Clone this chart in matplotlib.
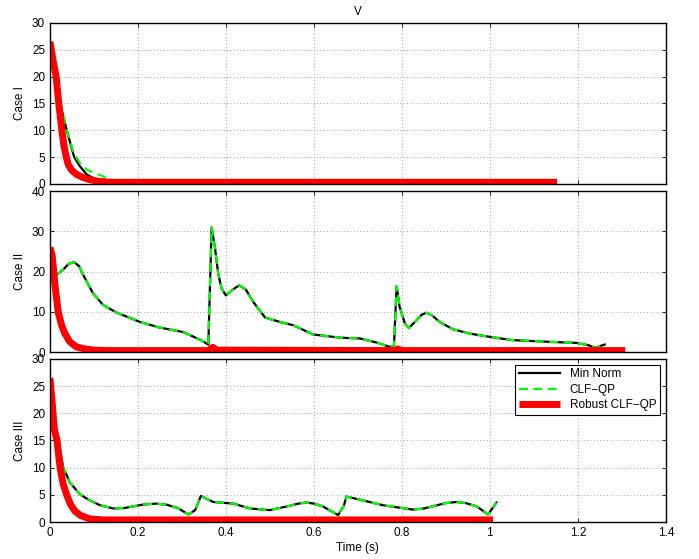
import matplotlib
matplotlib.use("Agg")
import matplotlib.pyplot as plt

plt.rcParams['font.family'] = ['Liberation Sans', 'DejaVu Sans']
plt.rcParams['font.size'] = 8.5

# ---- Case I ----
t1_norm = [0, 0.01, 0.023, 0.038, 0.055, 0.068, 0.083, 0.1, 0.12, 0.14, 0.2, 0.5, 0.8, 1.15]
v1_norm = [26, 20, 15, 10, 5, 3.3, 1.8, 1.0, 0.5, 0.3, 0.2, 0.2, 0.2, 0.2]
t1_clf = [0, 0.01, 0.023, 0.038, 0.053, 0.068, 0.085, 0.102, 0.118, 0.136, 0.16, 0.2, 0.5, 1.15]
v1_clf = [26, 20, 15.2, 10.2, 5.9, 3.9, 2.6, 2.0, 1.5, 0.8, 0.35, 0.2, 0.2, 0.2]
t1_rob = [0, 0.007, 0.014, 0.02, 0.027, 0.032, 0.037, 0.042, 0.05, 0.06, 0.075, 0.09, 0.11, 0.14, 1.153]
v1_rob = [26.5, 23, 20, 15, 10, 7, 5, 3.5, 2.5, 1.8, 1.2, 0.8, 0.5, 0.3, 0.3]

# ---- Case II ----
t2_norm = [0, 0.0136, 0.03, 0.042, 0.055, 0.066, 0.076, 0.098, 0.121, 0.152, 0.205,
           0.25, 0.303, 0.341, 0.36, 0.3675, 0.375, 0.3825, 0.39, 0.40, 0.415, 0.43,
           0.445, 0.462, 0.489, 0.523, 0.553, 0.598, 0.66, 0.705, 0.742, 0.773, 0.782,
           0.788, 0.795, 0.807, 0.816, 0.833, 0.845, 0.856, 0.868, 0.886, 0.916, 0.955,
           1.0, 1.05, 1.129, 1.197, 1.225, 1.239, 1.261]
v2_norm = [22, 19.1, 20.5, 21.9, 22.4, 21.4, 19.1, 14.6, 11.7, 9.8, 7.5,
           6.1, 5.0, 3.1, 1.9, 31, 26, 19.5, 15.8, 14.1, 15.5, 16.6,
           15.6, 12.5, 8.6, 7.5, 6.7, 4.4, 3.6, 3.4, 2.4, 1.3, 1.5,
           16.4, 11.2, 7.1, 6.0, 7.9, 9.3, 9.8, 9.2, 7.5, 5.7, 4.6,
           3.8, 3.0, 2.6, 2.3, 1.7, 1.1, 1.9]
t2_clf = t2_norm
v2_clf = v2_norm
t2_rob = [0, 0.005, 0.012, 0.019, 0.027, 0.034, 0.045, 0.06, 0.08, 0.1, 0.13,
          0.36, 0.37, 0.38, 0.785, 0.79, 0.80, 1.308]
v2_rob = [26, 24, 16, 9.8, 6.5, 4.6, 2.6, 1.3, 0.8, 0.5, 0.4,
          0.4, 1.2, 0.5, 0.4, 0.8, 0.4, 0.4]

# ---- Case III ----
t3_norm = [0, 0.01, 0.019, 0.03, 0.045, 0.068, 0.09, 0.114, 0.144, 0.17, 0.21, 0.24,
           0.265, 0.29, 0.315, 0.33, 0.343, 0.371, 0.417, 0.455, 0.5, 0.545, 0.565,
           0.583, 0.60, 0.62, 0.655, 0.668, 0.674, 0.69, 0.757, 0.825, 0.85, 0.875,
           0.9, 0.924, 0.945, 0.97, 0.996, 1.015]
v3_norm = [18, 16.5, 15.1, 10.1, 7.3, 5.1, 4.0, 3.1, 2.5, 2.6, 3.2, 3.4,
           3.2, 2.6, 1.4, 2.2, 4.8, 3.7, 3.4, 2.5, 2.2, 3.0, 3.4,
           3.6, 3.4, 2.9, 1.3, 3.0, 4.7, 4.4, 3.1, 2.3, 2.5, 3.0,
           3.5, 3.7, 3.5, 2.9, 1.4, 3.6]
t3_clf = t3_norm
v3_clf = v3_norm
t3_rob = [0, 0.005, 0.01, 0.016, 0.023, 0.03, 0.038, 0.047, 0.057, 0.07, 0.09, 0.12, 1.007]
v3_rob = [26.5, 22, 17, 15, 10, 7, 5, 3.2, 2, 1.2, 0.6, 0.4, 0.4]

cases = [
    ("Case I", t1_norm, v1_norm, t1_clf, v1_clf, t1_rob, v1_rob, 30, 5),
    ("Case II", t2_norm, v2_norm, t2_clf, v2_clf, t2_rob, v2_rob, 40, 10),
    ("Case III", t3_norm, v3_norm, t3_clf, v3_clf, t3_rob, v3_rob, 30, 5),
]
xticks = [0, 0.2, 0.4, 0.6, 0.8, 1, 1.2, 1.4]
xticklabels = ["0", "0.2", "0.4", "0.6", "0.8", "1", "1.2", "1.4"]

fig = plt.figure(figsize=(6.99, 5.59), dpi=100, facecolor="white")
boxes = [[0.0715, 0.671, 0.881, 0.288],
         [0.0715, 0.370, 0.881, 0.288],
         [0.0715, 0.066, 0.881, 0.292]]

for i, (name, tn, vn, tc, vc, tr, vr, ymax, ystep) in enumerate(cases):
    ax = fig.add_axes(boxes[i])
    ax.plot(tn, vn, color="black", lw=1.6, label="Min Norm")
    ax.plot(tc, vc, color="#00ff00", lw=1.6, dashes=(4, 2.5), label="CLF\u2212QP")
    ax.plot(tr, vr, color="#ff0000", lw=5, solid_capstyle="butt",
            label="Robust CLF\u2212QP")
    ax.set_xlim(0, 1.4)
    ax.set_ylim(0, ymax)
    ax.set_yticks(range(0, ymax + 1, ystep))
    ax.set_xticks(xticks)
    if i == 2:
        ax.set_xticklabels(xticklabels)
        ax.set_xlabel("Time (s)", labelpad=2)
        leg = ax.legend(loc="upper right", fancybox=False, edgecolor="black",
                        framealpha=1, handlelength=3.5, borderaxespad=0.5,
                        labelspacing=0.3, borderpad=0.3, fontsize=8.5)
        leg.get_frame().set_linewidth(0.8)
    else:
        ax.set_xticklabels([])
    if i == 0:
        ax.set_title("V", fontsize=8.5, pad=6)
    ax.set_ylabel(name)
    ax.grid(True, color="gray", linestyle=(0, (1, 3)), lw=0.6)
    ax.tick_params(direction="in", top=True, right=True, length=3, width=0.6)
    for sp in ax.spines.values():
        sp.set_linewidth(1.0)

fig.savefig("out.png", dpi=100)
